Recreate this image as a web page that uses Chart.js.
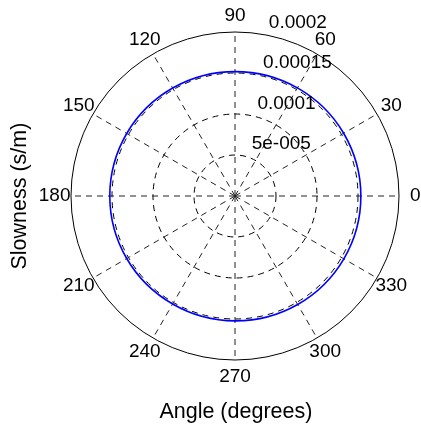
<!DOCTYPE html>
<html>
<head>
<meta charset="utf-8">
<script src="https://cdn.jsdelivr.net/npm/chart.js@4/dist/chart.umd.min.js"></script>
<style>
  body { margin: 0; background: #fff; }
  #wrap { width: 421px; height: 428px; }
</style>
</head>
<body>
<div id="wrap"><canvas id="polarChart"></canvas></div>
<script>
// slowness curve, one value per spoke (degrees, counter-clockwise from 0)
const angles = [0, 30, 60, 90, 120, 150, 180, 210, 240, 270, 300, 330];
const slowness = [1.535e-4, 1.530e-4, 1.522e-4, 1.517e-4, 1.520e-4, 1.525e-4,
                  1.527e-4, 1.525e-4, 1.521e-4, 1.523e-4, 1.528e-4, 1.533e-4];

// radial rings
const rMax = 2e-4;
const rTicks = [5e-5, 1e-4, 1.5e-4, 2e-4];
const rTickLabels = ['5e-005', '0.0001', '0.00015', '0.0002'];

const FONT = '"Liberation Sans", Arial, Helvetica, sans-serif';

// radar goes clockwise from startAngle, so walk the angles backwards from 0
const order = angles.map((_, i) => (angles.length - i) % angles.length);
const chartLabels = order.map(i => String(angles[i]));
const chartValues = order.map(i => slowness[i]);

// spoke labels at 1.1 x outer ring, ring values along the 82 degree line
const polarText = {
  id: 'polarText',
  afterDraw(chart) {
    const r = chart.scales.r;
    const ctx = chart.ctx;
    ctx.save();
    ctx.font = '19px ' + FONT;
    ctx.fillStyle = '#000';

    ctx.textAlign = 'center';
    ctx.textBaseline = 'middle';
    chart.data.labels.forEach((text, i) => {
      const p = r.getPointPosition(i, r.drawingArea * 1.1);
      ctx.fillText(text, p.x, p.y);
    });

    ctx.textAlign = 'left';
    ctx.textBaseline = 'alphabetic';
    const a = 82 * Math.PI / 180;
    rTicks.forEach((v, i) => {
      const d = r.getDistanceFromCenterForValue(v);
      ctx.fillText(rTickLabels[i], r.xCenter + d * Math.cos(a) + 11, r.yCenter - d * Math.sin(a) - 6);
    });
    ctx.restore();
  }
};

new Chart(document.getElementById('polarChart'), {
  type: 'radar',
  data: {
    labels: chartLabels,
    datasets: [{
      data: chartValues,
      borderColor: '#0000ff',
      borderWidth: 1.6,
      pointRadius: 0,
      fill: false,
      tension: 0.35
    }]
  },
  options: {
    responsive: true,
    maintainAspectRatio: false,
    animation: false,
    layout: { padding: { left: 0, right: 21, top: 32, bottom: 0 } },
    plugins: {
      legend: { display: false },
      tooltip: { enabled: false },
      title: {
        display: true,
        position: 'bottom',
        fullSize: false,
        text: 'Angle (degrees)',
        color: '#000',
        font: { family: FONT, size: 21.5, weight: 'normal' },
        padding: { top: 39, bottom: 3 }
      },
      subtitle: {
        display: true,
        position: 'left',
        fullSize: false,
        text: 'Slowness (s/m)',
        color: '#000',
        font: { family: FONT, size: 21.5, weight: 'normal' },
        padding: { top: 7, bottom: 39 }
      }
    },
    scales: {
      r: {
        min: 0,
        max: rMax,
        startAngle: 90,
        ticks: { display: false, stepSize: 5e-5 },
        pointLabels: { display: false },
        grid: { circular: true, color: '#000', lineWidth: 1 },
        border: {
          dash: (ctx) => (ctx.tick && ctx.tick.value >= rMax * 0.999) ? [] : [6, 5]
        },
        angleLines: { color: '#222', lineWidth: 1, borderDash: [6, 5] }
      }
    }
  },
  plugins: [polarText]
});
</script>
</body>
</html>
